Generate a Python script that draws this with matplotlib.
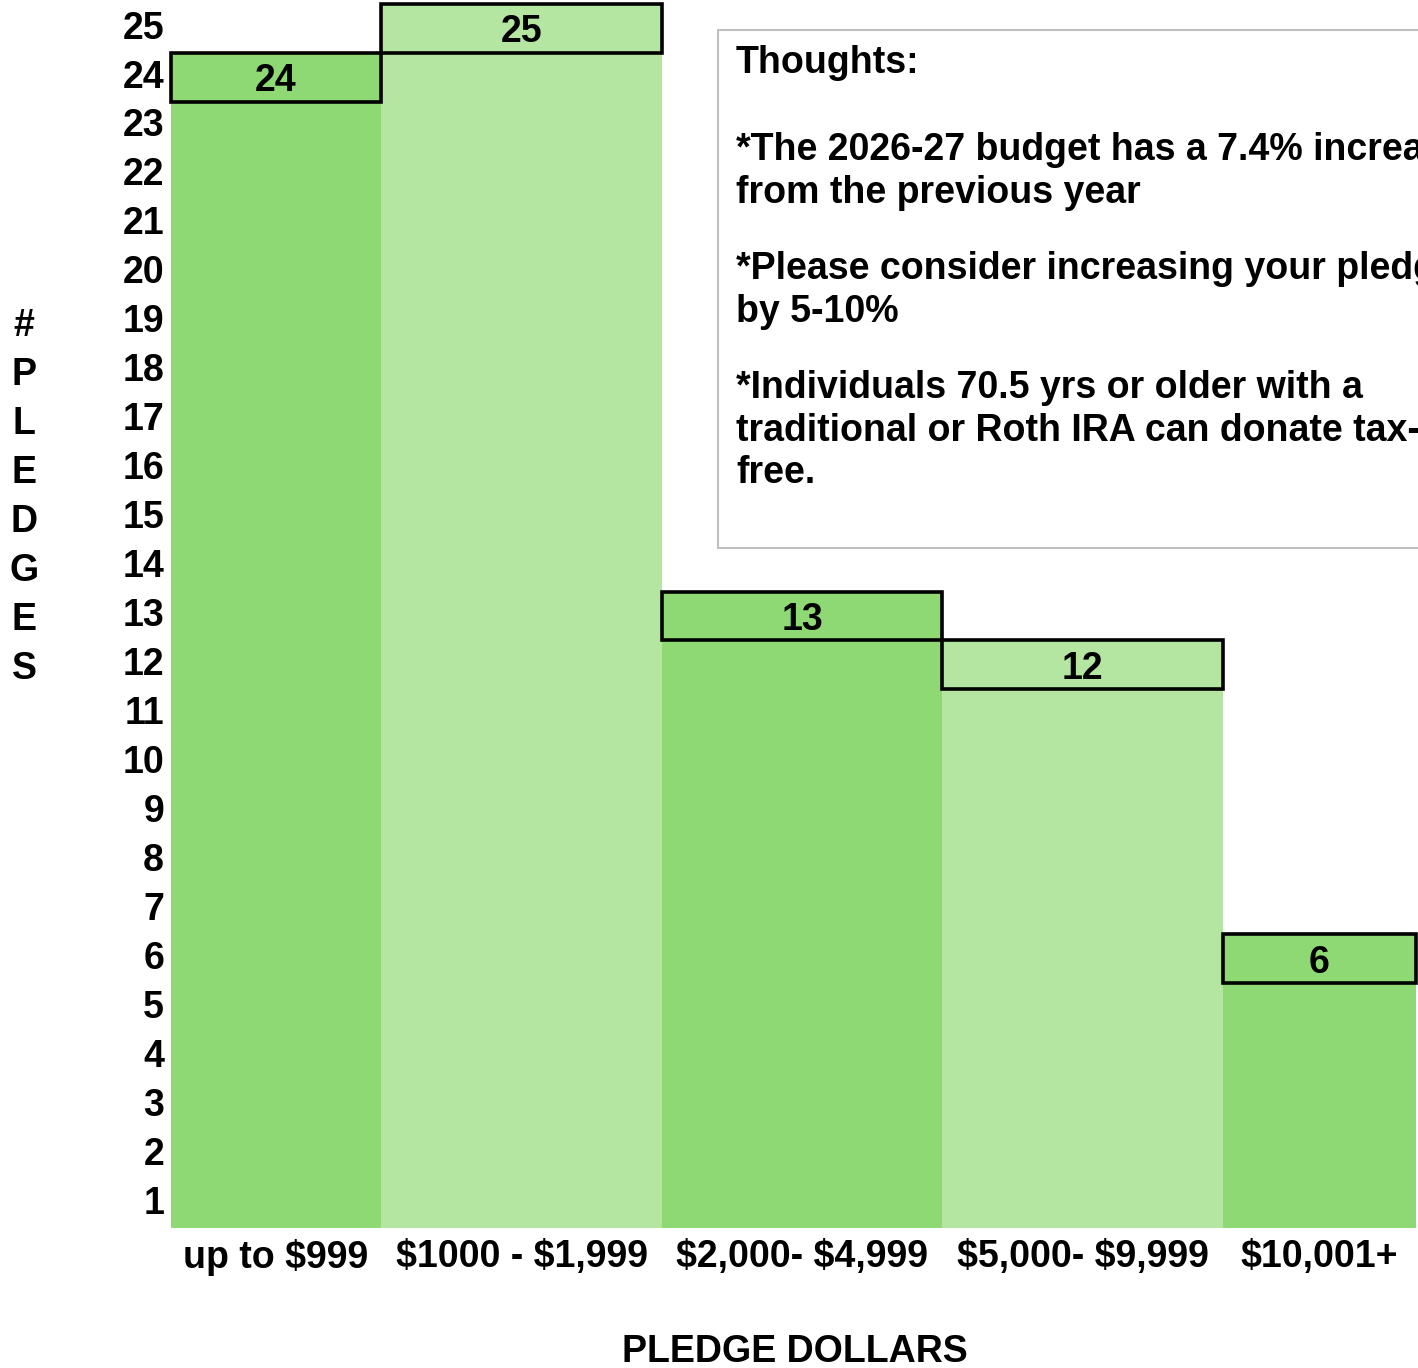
import matplotlib
matplotlib.use("Agg")
import matplotlib.pyplot as plt
from matplotlib.patches import Rectangle
from matplotlib.transforms import blended_transform_factory
import numpy as np

# ---- data ----
categories = ["up to \\$999", "\\$1000 - \\$1,999", "\\$2,000- \\$4,999", "\\$5,000- \\$9,999", "\\$10,001+"]
pledges = [24, 25, 13, 12, 6]
ytick_values = list(range(1, 26))
ylabel_letters = ["#", "P", "L", "E", "D", "G", "E", "S"]
thoughts_lines = [
    "Thoughts:",
    "*The 2026-27 budget has a 7.4% increase",
    "from the previous year",
    "*Please consider increasing your pledge",
    "by 5-10%",
    "*Individuals 70.5 yrs or older with a",
    "traditional or Roth IRA can donate tax-",
    "free.",
]

# ---- layout / style ----
W, H = 1418, 1368
bar_widths = [210, 281, 280, 281, 193]
colors = ["#8ED973", "#B4E6A2", "#8ED973", "#B4E6A2", "#8ED973"]
FONT = ["Liberation Sans", "DejaVu Sans"]
FS = 27
line_y_px = [59, 146, 189, 265, 308, 384, 427, 469]
tick_offset = 0.42

plt.rcParams["font.family"] = FONT
plt.rcParams["font.weight"] = "bold"

fig = plt.figure(figsize=(W / 100, H / 100), dpi=100)

def fx(px):
    return px / W

def fy(py):
    return 1 - py / H

ax = fig.add_axes([fx(171), fy(1228), fx(1416) - fx(171), fy(4) - fy(1228)])

lefts = np.concatenate([[0], np.cumsum(bar_widths)[:-1]])
centers = lefts + np.array(bar_widths) / 2
ax.bar(lefts, pledges, width=bar_widths, align="edge", color=colors, linewidth=0)

for l, w, v, c in zip(lefts, bar_widths, pledges, colors):
    ax.add_patch(Rectangle((l, v - 1), w, 1, facecolor=c, edgecolor="black",
                           linewidth=2.6, clip_on=False, zorder=3))
    ax.text(l + w / 2, v - 0.5, str(v), ha="center", va="center_baseline",
            fontsize=FS, fontweight="bold", zorder=4)

ax.set_xlim(0, sum(bar_widths))
ax.set_ylim(0, 25)
ax.set_xticks(centers)
ax.set_xticklabels(categories, fontsize=FS, fontweight="bold")
ax.set_yticks([v - tick_offset for v in ytick_values])
ax.set_yticklabels([str(v) for v in ytick_values], fontsize=FS, fontweight="bold")
ax.tick_params(axis="both", length=0)
ax.tick_params(axis="y", pad=5)
ax.tick_params(axis="x", pad=8)
for s in ax.spines.values():
    s.set_visible(False)

# vertical stacked y label
tr = blended_transform_factory(fig.transFigure, ax.transData)
for i, ch in enumerate(ylabel_letters):
    ax.text(fx(24), 19 - 0.5 - i, ch, transform=tr, ha="center", va="center_baseline",
            fontsize=FS, fontweight="bold")

fig.text(fx(795), fy(1348), "PLEDGE DOLLARS", ha="center", va="center_baseline",
         fontsize=FS, fontweight="bold")

# thoughts box (extends beyond right edge, cropped by figure as in the original)
fig.patches.append(Rectangle((fx(718), fy(548)), fx(800), fy(30) - fy(548),
                             transform=fig.transFigure, facecolor="white",
                             edgecolor="#BFBFBF", linewidth=1.5, zorder=5))
for line, p in zip(thoughts_lines, line_y_px):
    fig.text(fx(736), fy(p), line, ha="left", va="center_baseline", fontsize=FS,
             fontweight="bold", zorder=6)

fig.savefig("out.png", dpi=100)
